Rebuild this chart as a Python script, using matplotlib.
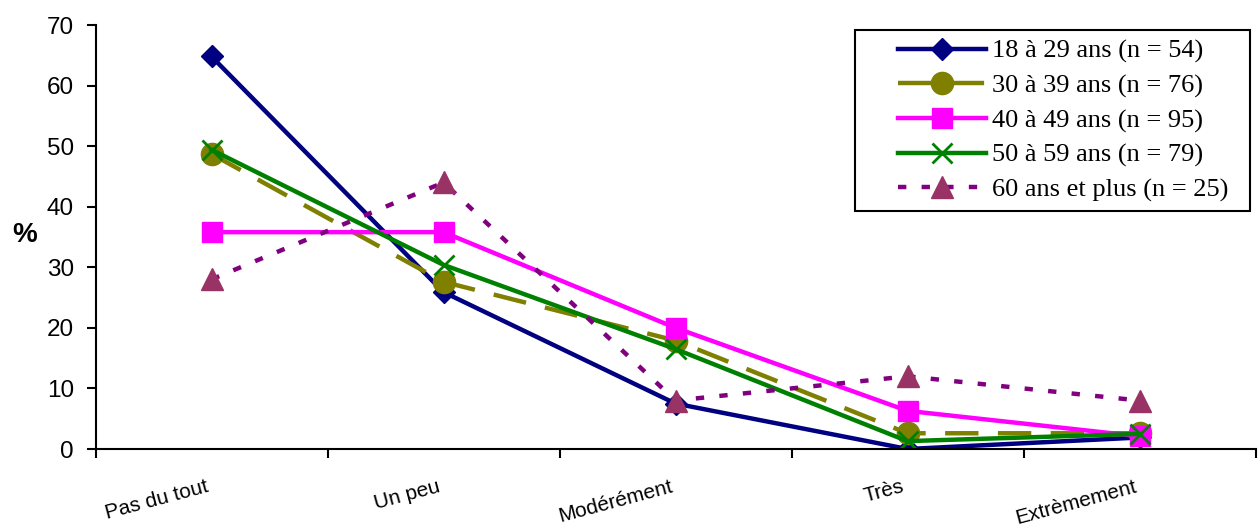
import numpy as np
import matplotlib
matplotlib.use('Agg')
import matplotlib.pyplot as plt
import matplotlib.transforms as mtransforms
from matplotlib.legend_handler import HandlerLine2D

# data
categories = ['Pas du tout', 'Un peu', 'Modérément', 'Très', 'Extrèmement']
labels = ['18 à 29 ans (n = 54)', '30 à 39 ans (n = 76)', '40 à 49 ans (n = 95)',
          '50 à 59 ans (n = 79)', '60 ans et plus (n = 25)']
age_18_29 = [64.8, 25.9, 7.5, 0.0, 1.9]
age_30_39 = [48.7, 27.6, 17.9, 2.6, 2.6]
age_40_49 = [35.8, 35.8, 20.0, 6.3, 2.1]
age_50_59 = [49.4, 30.4, 16.5, 1.3, 2.5]
age_60_plus = [28.0, 44.0, 8.0, 12.0, 8.0]

plt.rcParams['lines.scale_dashes'] = False

fig = plt.figure(figsize=(12.59, 5.25), dpi=100)
ax = fig.add_axes([95.5 / 1259, 1 - 449 / 525, 1160 / 1259, 424 / 525])

x = np.arange(len(categories))

ax.plot(x, age_18_29, color='#000080', lw=3.2, marker='D', ms=11.5,
        mfc='#000080', mec='#000080', label=labels[0])
ax.plot(x, age_30_39, color='#808000', lw=3.2, dashes=(24, 14), marker='o', ms=16,
        mfc='#808000', mec='#808000', label=labels[1])
ax.plot(x, age_40_49, color='#FF00FF', lw=3.2, marker='s', ms=15,
        mfc='#FF00FF', mec='#FF00FF', label=labels[2])
ax.plot(x, age_50_59, color='#008000', lw=3.2, marker='x', ms=15, mew=2,
        mec='#008000', label=labels[3])
ax.plot(x, age_60_plus, color='#800080', lw=3.2, dashes=(6, 11), marker='^', ms=16,
        mfc='#993366', mec='#993366', label=labels[4])

ax.set_xlim(-0.5, len(categories) - 0.5)
ax.set_ylim(0, 70)
ax.set_yticks(range(0, 71, 10))

ax.set_xticks(np.arange(-0.5, len(categories), 1.0))
ax.set_xticklabels([])
ax.set_xticks(x, minor=True)
ax.set_xticklabels(categories, minor=True, fontfamily='Liberation Sans', fontsize=15)
ax.tick_params(axis='x', which='minor', length=0, pad=20)
shift = mtransforms.ScaledTranslation(-6 / 100, 0, fig.dpi_scale_trans)
for lab in ax.get_xticklabels(minor=True):
    lab.set_rotation(15)
    lab.set_ha('right')
    lab.set_rotation_mode('anchor')
    lab.set_transform(lab.get_transform() + shift)

ax.tick_params(axis='x', which='major', direction='out', length=6.5, width=1.5)
ax.tick_params(axis='y', direction='out', length=6.5, width=1.5, pad=9,
               labelsize=17.5)
for lab in ax.get_yticklabels():
    lab.set_fontfamily('Liberation Sans')

for side in ['top', 'right']:
    ax.spines[side].set_visible(False)
for side in ['left', 'bottom']:
    ax.spines[side].set_linewidth(1.5)

ax.set_ylabel('%', rotation=0, fontweight='bold', fontsize=20,
              fontfamily='Liberation Sans', va='center', ha='center')
ax.yaxis.set_label_coords(-0.061, 0.505)

leg = ax.legend(loc='upper left', bbox_to_anchor=(0.6547, 0.0, 0.3406, 0.988),
                mode='expand', borderaxespad=0,
                numpoints=1, handlelength=4.6, handletextpad=0.25, labelspacing=0.41,
                borderpad=0.35, fancybox=False, framealpha=1,
                handler_map={matplotlib.lines.Line2D: HandlerLine2D(xpad=1.3)},
                prop={'family': 'Liberation Serif', 'size': 19})
leg.get_frame().set_edgecolor('black')
leg.get_frame().set_linewidth(1.5)

fig.savefig('out.png', dpi=100)
